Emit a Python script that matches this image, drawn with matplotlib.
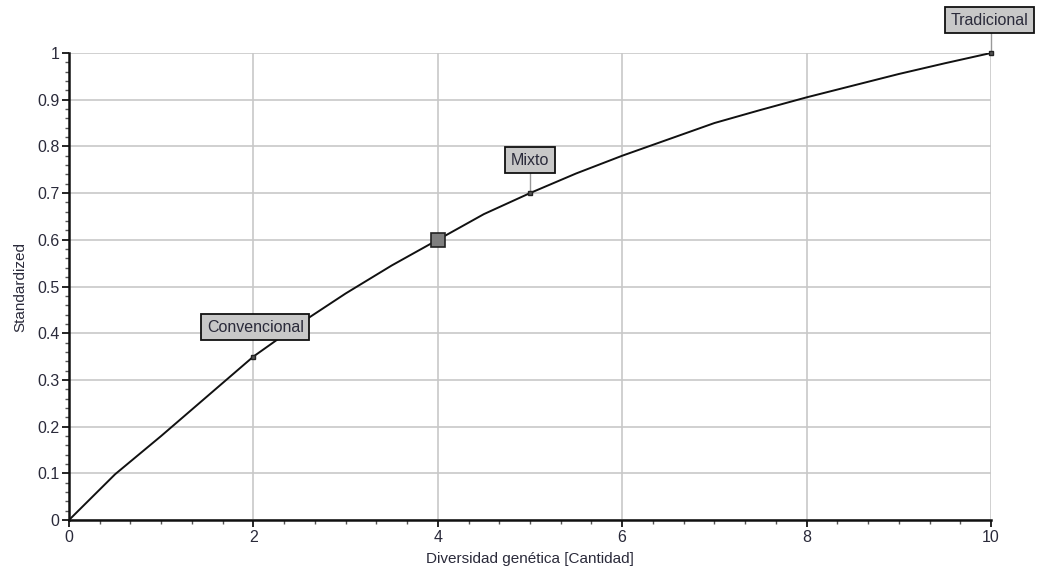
import matplotlib.pyplot as plt
from matplotlib.ticker import MultipleLocator

plt.rcParams['font.family'] = ['Liberation Sans', 'DejaVu Sans']

# curve
diversidad = [0, 0.5, 1, 1.5, 2, 2.5, 3, 3.5, 4, 4.5, 5, 5.5, 6, 6.5, 7, 7.5, 8, 8.5, 9, 9.5, 10]
standardized = [0, 0.098, 0.18, 0.265, 0.35, 0.42, 0.485, 0.545, 0.60, 0.655, 0.70, 0.742,
                0.78, 0.815, 0.85, 0.878, 0.905, 0.93, 0.955, 0.978, 1.0]

# labelled points
etiquetas = ['Convencional', 'Mixto', 'Tradicional']
etiq_x = [2, 5, 10]
etiq_y = [0.35, 0.70, 1.0]
caja_x = [2.02, 5.0, 9.98]
caja_y = [0.413, 0.77, 1.07]

sel_x, sel_y = 4, 0.60

fig = plt.figure(figsize=(10.44, 5.76), dpi=100)
ax = fig.add_axes([0.0661, 0.0972, 0.8831, 0.8108])

ax.plot(diversidad, standardized, color='#111111', lw=1.4, zorder=3)
ax.plot([sel_x], [sel_y], marker='s', ms=10, mfc='#7f7f7f', mec='#222222', mew=1.2, zorder=5)

for t, px, py, bx, by in zip(etiquetas, etiq_x, etiq_y, caja_x, caja_y):
    ax.plot([px], [py], marker='s', ms=3, mfc='#555555', mec='#222222', zorder=5, clip_on=False)
    if t != 'Convencional':
        ax.plot([px, px], [py, by], color='#999999', lw=1.0, zorder=2, clip_on=False)
    ax.annotate(t, (bx, by), ha='center', va='center', fontsize=11.5, color='#2a2a3a', zorder=6,
                annotation_clip=False,
                bbox=dict(boxstyle='square,pad=0.35', fc='#c8c8c8', ec='#111111', lw=1.3))

ax.set_xlim(0, 10)
ax.set_ylim(0, 1)
ax.xaxis.set_major_locator(MultipleLocator(2))
ax.xaxis.set_minor_locator(MultipleLocator(1 / 3))
ax.set_yticks([i / 10 for i in range(11)])
ax.set_yticklabels(['0', '0.1', '0.2', '0.3', '0.4', '0.5', '0.6', '0.7', '0.8', '0.9', '1'])
ax.yaxis.set_minor_locator(MultipleLocator(0.02))

ax.grid(True, which='major', color='#c8c8c8', lw=1.2)
ax.set_axisbelow(True)
for s in ['top', 'right']:
    ax.spines[s].set_visible(False)
for s in ['left', 'bottom']:
    ax.spines[s].set_linewidth(1.8)
    ax.spines[s].set_color('#111111')

ax.tick_params(which='major', length=5, width=1.2, labelsize=11.5, labelcolor='#2a2a3a', pad=2)
ax.tick_params(which='minor', length=3, width=1.0, color='#555555')

ax.set_xlabel('Diversidad genética [Cantidad]', fontsize=11, color='#2a2a3a', labelpad=5)
ax.set_ylabel('Standardized', fontsize=11, color='#2a2a3a', labelpad=7)

fig.savefig('out.png', dpi=100)
